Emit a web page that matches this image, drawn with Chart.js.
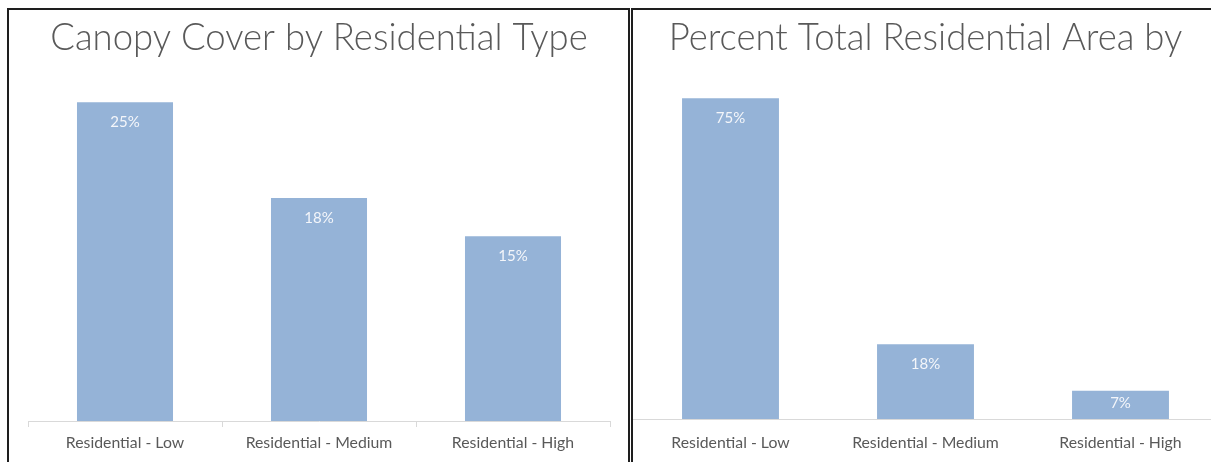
<!DOCTYPE html>
<html>
<head>
<meta charset="utf-8">
<script src="https://cdn.jsdelivr.net/npm/chart.js@4.4.1/dist/chart.umd.min.js"></script>
<style>
  html, body { margin:0; padding:0; background:#fff; width:1211px; height:462px; overflow:hidden; position:relative; }
  .wrap { position:absolute; top:10px; height:452px; }
  .frame { position:absolute; border:2px solid #1e1e1e; border-bottom:none; pointer-events:none; z-index:2; }
</style>
</head>
<body>
<div class="frame" style="left:7px; top:8px; width:619px; height:460px;"></div>
<div class="frame" style="left:631px; top:8px; width:600px; height:460px; border-right:none;"></div>
<div class="wrap" style="left:9px; width:618px;"><canvas id="c1" width="618" height="452"></canvas></div>
<div class="wrap" style="left:614px; width:621px;"><canvas id="c2" width="621" height="452"></canvas></div>
<script>
// ---- data ----
const categories = ['Residential - Low', 'Residential - Medium', 'Residential - High'];
const canopyTitle = 'Canopy Cover by Residential Type';
const canopyValues = [25.0, 17.5, 14.5];
const areaTitle = 'Percent Total Residential Area by';
const areaValues = [75.0, 17.5, 6.6];

const BAR = '#95B3D7';
const TXT = '#595959';

const dataLabelPlugin = {
  id: 'inLabels',
  afterDatasetsDraw(chart) {
    const ctx = chart.ctx;
    const meta = chart.getDatasetMeta(0);
    const ds = chart.data.datasets[0];
    ctx.save();
    ctx.font = '15px Lato, "Open Sans", sans-serif';
    ctx.fillStyle = '#f4f6fa';
    ctx.textAlign = 'center';
    ctx.textBaseline = 'middle';
    meta.data.forEach((bar, i) => {
      const h = bar.base - bar.y;
      const off = Math.min(20, h / 2 - 2);
      ctx.fillText(Math.round(ds.data[i]) + '%', bar.x, bar.y + off);
    });
    ctx.restore();
  }
};

function makeChart(id, title, values, yMax, titlePadBottom, axisHeight, ticks, labelPad, barPct) {
  return new Chart(document.getElementById(id), {
    type: 'bar',
    data: { labels: categories, datasets: [{ data: values, backgroundColor: BAR, borderWidth: 0,
      categoryPercentage: 1, barPercentage: barPct }] },
    options: {
      responsive: false, animation: false,
      layout: { padding: { left: 19, right: 17, top: 0, bottom: 0 } },
      plugins: {
        legend: { display: false }, tooltip: { enabled: false },
        title: { display: true, text: title, color: TXT,
          font: { family: 'Lato, "Open Sans", sans-serif', size: 36.5, weight: '300', lineHeight: 1.2 },
          padding: { top: 6.5, bottom: titlePadBottom } }
      },
      scales: {
        y: { display: false, min: 0, max: yMax },
        x: {
          afterFit: (s) => { s.height = axisHeight; },
          grid: { display: true, drawOnChartArea: false, drawTicks: ticks, tickLength: 6, color: '#d9d9d9', offset: true },
          border: { display: true, color: '#d9d9d9', width: 1 },
          ticks: { color: TXT, padding: labelPad, font: { family: 'Lato, "Open Sans", sans-serif', size: 15.8 } }
        }
      }
    },
    plugins: [dataLabelPlugin]
  });
}

makeChart('c1', canopyTitle, canopyValues, 26, 29.2, 41, true, 6, 0.495);
makeChart('c2', areaTitle, areaValues, 78, 25.2, 43, false, 14, 0.497);
</script>
</body>
</html>
